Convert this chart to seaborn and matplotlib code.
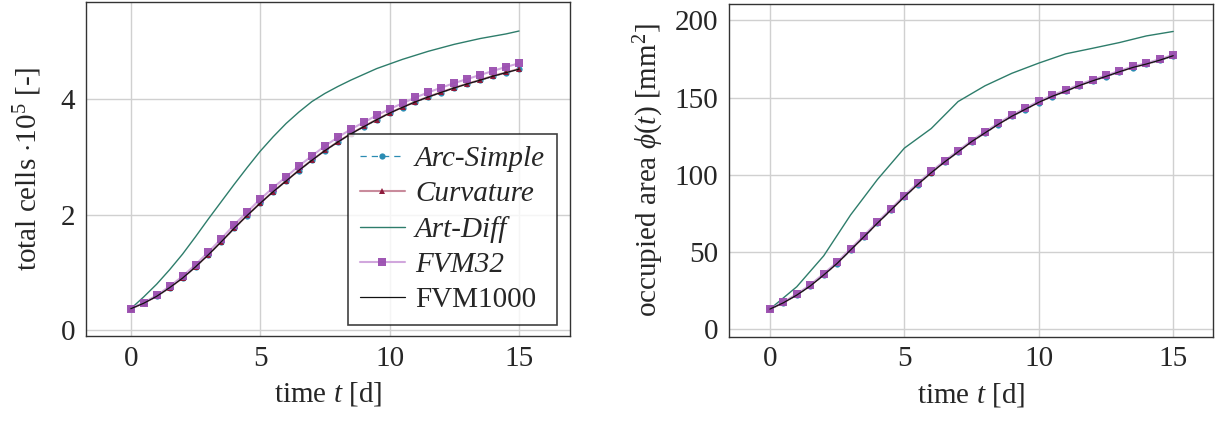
import numpy as np
import matplotlib
matplotlib.use("Agg")
import matplotlib.pyplot as plt
import seaborn as sns

# time grids [d]
t_half = np.arange(0, 15.5, 0.5)
t_day = np.arange(0, 16, 1.0)

# total cells (x 1e5)
cells_arc = [0.375, 0.468, 0.588, 0.737, 0.902, 1.097, 1.306, 1.531, 1.766, 1.986, 2.196,
             2.396, 2.581, 2.766, 2.941, 3.106, 3.256, 3.396, 3.521, 3.641, 3.756, 3.856,
             3.951, 4.036, 4.116, 4.191, 4.261, 4.326, 4.396, 4.456, 4.516]
cells_curv = [0.375, 0.472, 0.592, 0.742, 0.907, 1.103, 1.313, 1.538, 1.773, 1.993, 2.203,
              2.403, 2.588, 2.773, 2.948, 3.113, 3.263, 3.403, 3.528, 3.648, 3.763, 3.863,
              3.958, 4.043, 4.123, 4.198, 4.268, 4.333, 4.403, 4.463, 4.523]
cells_art = [0.375, 0.58, 0.80, 1.05, 1.32, 1.62, 1.93, 2.23, 2.53, 2.82, 3.10, 3.35, 3.58,
             3.78, 3.96, 4.10, 4.22, 4.33, 4.43, 4.53, 4.61, 4.69, 4.76, 4.83, 4.89, 4.95,
             5.00, 5.05, 5.09, 5.13, 5.18]
cells_fvm32 = [0.375, 0.48, 0.606, 0.762, 0.935, 1.137, 1.356, 1.587, 1.83, 2.05, 2.27, 2.47,
               2.655, 2.846, 3.02, 3.19, 3.34, 3.48, 3.60, 3.72, 3.83, 3.93, 4.03, 4.12,
               4.20, 4.28, 4.35, 4.42, 4.49, 4.56, 4.62]
cells_fvm1000 = [0.375, 0.470, 0.590, 0.740, 0.905, 1.100, 1.310, 1.535, 1.770, 1.990, 2.200,
                 2.400, 2.585, 2.770, 2.945, 3.110, 3.260, 3.400, 3.525, 3.645, 3.760, 3.860,
                 3.955, 4.040, 4.120, 4.195, 4.265, 4.330, 4.400, 4.460, 4.520]

# occupied area [mm^2]
area_arc = [13.0, 17.0, 22.0, 27.9, 35.0, 42.5, 51.1, 59.7, 68.5, 77.0, 85.6, 93.6, 101.2,
            108.2, 114.7, 121.3, 127.0, 132.6, 137.8, 142.3, 146.8, 150.7, 154.0, 157.6,
            160.7, 163.6, 166.6, 169.4, 171.6, 174.1, 177.0]
area_curv = [13.0, 17.2, 22.3, 28.2, 35.3, 42.8, 51.5, 60.0, 68.9, 77.3, 85.9, 93.9, 101.5,
             108.5, 115.0, 121.6, 127.3, 132.9, 138.1, 142.6, 147.1, 151.0, 154.3, 157.9,
             161.0, 163.9, 166.9, 169.7, 171.9, 174.4, 177.3]
area_art = [13.0, 27.5, 47.5, 74.0, 97.0, 117.3, 130.0, 147.5, 157.7, 165.8, 172.4, 178.4,
            182.0, 185.7, 190.0, 192.9]
area_fvm32 = [13.0, 17.5, 22.7, 28.7, 35.9, 43.4, 52.1, 60.7, 69.5, 78.0, 86.6, 94.6, 102.2,
              109.1, 115.6, 122.2, 127.9, 133.5, 138.7, 143.2, 147.7, 151.6, 154.9, 158.5,
              161.6, 164.4, 167.4, 170.2, 172.4, 174.9, 177.8]
area_fvm1000 = [13.0, 17.1, 22.1, 28.0, 35.1, 42.6, 51.3, 59.9, 68.7, 77.2, 85.8, 93.8, 101.4,
                108.4, 114.9, 121.5, 127.2, 132.8, 138.0, 142.5, 147.0, 150.9, 154.2, 157.8,
                160.9, 163.8, 166.8, 169.6, 171.8, 174.3, 177.2]

sns.set_style("white")
plt.rcParams["font.family"] = ["Liberation Serif", "DejaVu Serif"]
plt.rcParams["mathtext.fontset"] = "custom"
plt.rcParams["mathtext.rm"] = "Liberation Serif"
plt.rcParams["mathtext.it"] = "Liberation Serif:italic"
FS = 21
plt.rcParams["font.size"] = FS

fig = plt.figure(figsize=(12.29, 4.25), dpi=100)
ax1 = fig.add_axes([0.070, 0.209, 0.394, 0.786])
ax2 = fig.add_axes([0.5934, 0.208, 0.3936, 0.783])

c_arc = "#2b8cb3"
c_curv = "#8e1b3c"
c_curv_line = "#c98b9c"
c_art = "#2e7d6b"
c_fvm = "#9b4fb0"
c_fvm_line = "#cfa2dc"


def draw(ax, y_arc, y_curv, t_art, y_art, y_fvm32, y_fvm1000):
    sns.lineplot(x=t_half, y=y_arc, ax=ax, color=c_arc, lw=0.9, linestyle=(0, (5, 4)),
                 marker="o", markersize=4.5, markeredgewidth=0, label="Arc-Simple")
    sns.lineplot(x=t_half, y=y_curv, ax=ax, color=c_curv_line, lw=1.5,
                 marker="^", markersize=5, markerfacecolor=c_curv, markeredgewidth=0,
                 label="Curvature")
    sns.lineplot(x=t_art, y=y_art, ax=ax, color=c_art, lw=1.0, label="Art-Diff")
    sns.lineplot(x=t_half, y=y_fvm32, ax=ax, color=c_fvm_line, lw=1.5,
                 marker="s", markersize=5.5, markerfacecolor=c_fvm, markeredgewidth=0,
                 alpha=0.95, label="FVM32")
    sns.lineplot(x=t_half, y=y_fvm1000, ax=ax, color="#111111", lw=0.9, label="FVM1000")


draw(ax1, cells_arc, cells_curv, t_half, cells_art, cells_fvm32, cells_fvm1000)
draw(ax2, area_arc, area_curv, t_day, area_art, area_fvm32, area_fvm1000)

for ax in (ax1, ax2):
    ax.grid(True, color="#d0d0d0", lw=1.0)
    ax.set_xticks([0, 5, 10, 15])
    ax.tick_params(direction="in", length=5, color="#808080", labelsize=FS)
    ax.tick_params(axis="x", pad=7)
    ax.tick_params(axis="y", pad=8)
    for s in ax.spines.values():
        s.set_color("#333333")
        s.set_linewidth(1.0)
    ax.set_xlabel("time $t$ [d]", fontsize=FS, labelpad=6)

ax1.set_xlim(-1.73, 16.98)
ax1.set_ylim(-0.10, 5.68)
ax1.set_yticks([0, 2, 4])
ax1.set_ylabel(r"total cells $\cdot 10^5$ [-]", fontsize=FS, labelpad=12)

ax2.set_xlim(-1.51, 16.48)
ax2.set_ylim(-4.8, 210.8)
ax2.set_yticks([0, 50, 100, 150, 200])
ax2.set_ylabel(r"occupied area $\phi(t)$ [mm$^2$]", fontsize=FS, labelpad=6)
ax2.get_legend().remove()

leg = ax1.legend(loc="lower right", bbox_to_anchor=(0.972, 0.033), frameon=True,
                 fancybox=False, edgecolor="#111111", fontsize=FS, handlelength=1.55,
                 borderpad=0.4, labelspacing=0.3, handletextpad=0.35, borderaxespad=0)
leg.get_frame().set_linewidth(1.2)
for txt in leg.get_texts()[:4]:
    txt.set_fontstyle("italic")

fig.savefig("out.png", dpi=100)
